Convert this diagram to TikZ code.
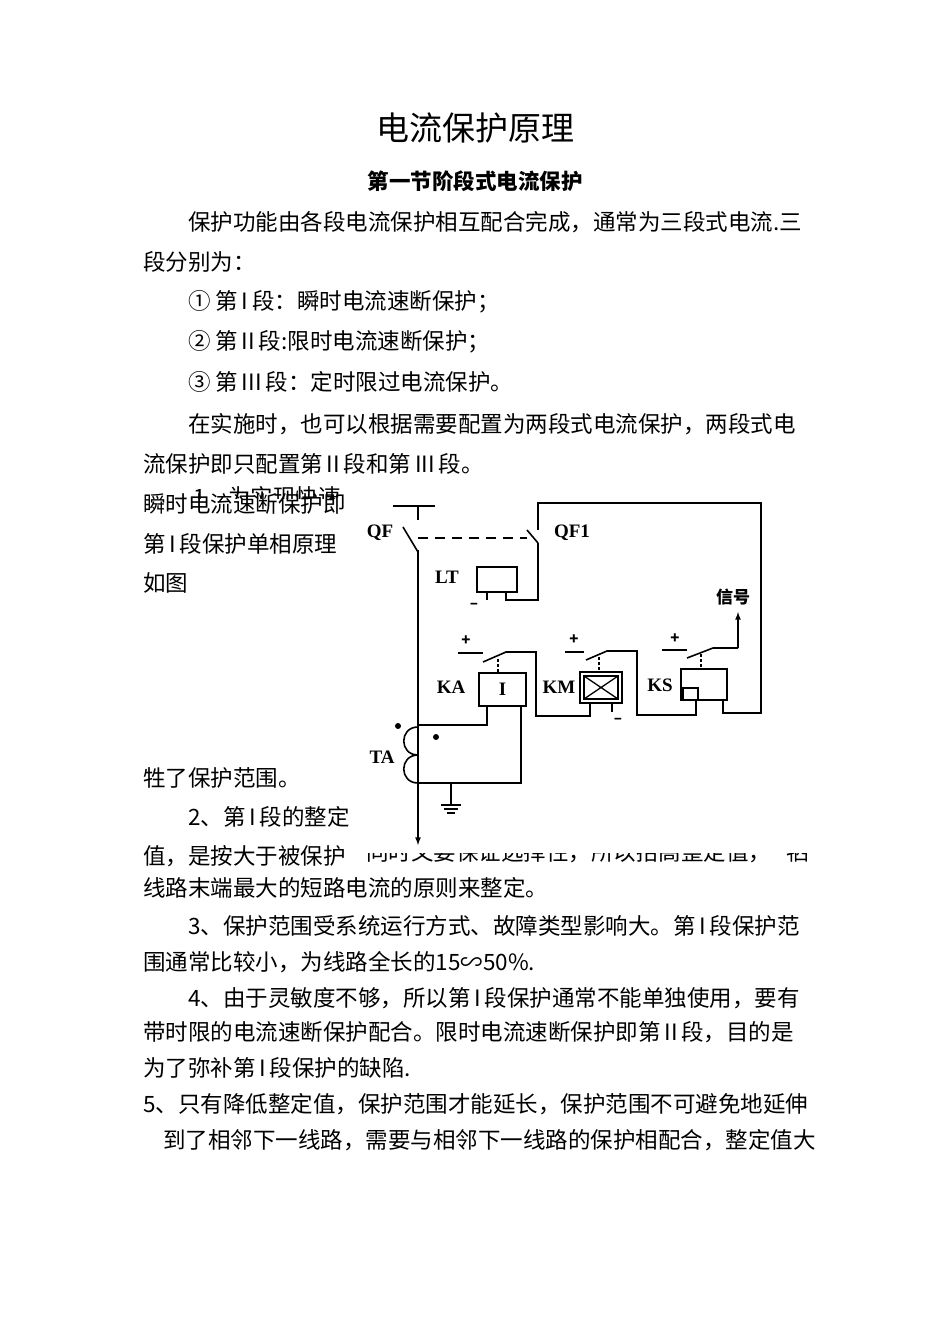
\documentclass[tikz,border=0pt]{standalone}
\usepackage{fontspec}
\setmainfont{Noto Sans CJK SC}
\newfontfamily\lat{Liberation Serif}
\newcommand{\rI}{\,I\,}
\begin{document}
\begin{tikzpicture}[x=1pt,y=-1pt,
  body/.style={anchor=west,inner sep=0pt,font=\fontsize{22.5}{22.5}\selectfont},
  wire/.style={line width=1.6pt},
  lbl/.style={inner sep=0pt,font=\lat\bfseries\fontsize{19}{19}\selectfont},
  pm/.style={inner sep=0pt,font=\bfseries\fontsize{15}{15}\selectfont}]
\useasboundingbox[fill=white] (0,0) rectangle (950,1344);
\node[inner sep=0pt,font=\fontsize{33}{33}\selectfont] (title) at (475,128) {电流保护原理};
\node[inner sep=0pt,font=\bfseries\fontsize{21.5}{21.5}\selectfont] (sub) at (475,181) {第一节阶段式电流保护};
\node[body] (l1) at (188,222) {保护功能由各段电流保护相互配合完成，通常为三段式电流.三};
\node[body] (l2) at (143,262) {段分别为：};
\node[body] (l3) at (188,302) {① 第\rI 段：瞬时电流速断保护；};
\node[body] (l4) at (188,342) {② 第\,II\,段:限时电流速断保护；};
\node[body] (l5) at (188,382) {③ 第\,III\,段：定时限过电流保护。};
\node[body] (l6) at (188,424) {在实施时，也可以根据需要配置为两段式电流保护，两段式电};
\node[body] (l7) at (143,464) {流保护即只配置第\,II\,段和第\,III\,段。};
\begin{scope}
\clip (180,470) rectangle (360,498);
\node[body] (l8b) at (193,497) {1、为实现快速};
\end{scope}
\node[body] (l8) at (143,504) {瞬时电流速断保护即};
\node[body] (l9) at (143,544) {第\rI 段保护单相原理};
\node[body] (l10) at (143,583) {如图};
\node[body] (l11) at (143,778) {牲了保护范围。};
\node[body] (l12) at (188,817) {2、第\rI 段的整定};
\node[body] (l13) at (143,856) {值，是按大于被保护};
\begin{scope}
\clip (360,853) rectangle (820,880);
\node[body,xscale=1.0] (l13b) at (366,852) {同时又要保证选择性，所以抬高整定值，};
\node[body] (l13c) at (786,852) {牺};
\end{scope}
\node[body] (l14) at (143,888) {线路末端最大的短路电流的原则来整定。};
\node[body] (l15) at (188,926) {3、保护范围受系统运行方式、故障类型影响大。第\rI 段保护范};
\node[body] (l16) at (143,962) {围通常比较小，为线路全长的15∽50\%.};
\node[body] (l17) at (188,998) {4、由于灵敏度不够，所以第\rI 段保护通常不能单独使用，要有};
\node[body] (l18) at (143,1032) {带时限的电流速断保护配合。限时电流速断保护即第\,II\,段，目的是};
\node[body] (l19) at (143,1068) {为了弥补第\rI 段保护的缺陷.};
\node[body] (l20) at (143,1104) {5、只有降低整定值，保护范围才能延长，保护范围不可避免地延伸};
\node[body] (l21) at (163,1140) {到了相邻下一线路，需要与相邻下一线路的保护相配合，整定值大};
% circuit
\draw[wire] (393,506) -- (435,506);
\draw[wire] (418,506) -- (418,520);
\draw[wire] (403,527) -- (418,552);
\draw[wire,-latex] (418,550) -- (418,845);
\draw[wire,dashed,dash pattern=on 10pt off 7pt] (418,538) -- (527,538);
\draw[wire] (527,530) -- (538,543);
\draw[wire] (538,530) -- (538,503) -- (761,503) -- (761,713) -- (723,713) -- (723,700);
\draw[wire] (538,543) -- (538,600) -- (506,600) -- (506,592);
\node[draw,line width=1.6pt,minimum width=40pt,minimum height=25pt,inner sep=0pt] (LT) at (497,579.5) {};
\draw[wire] (487,592) -- (487,600);
\node[lbl] (LTl) at (447,577) {LT};
\node[pm] (m1) at (474,606) {–};
\node[lbl] (QFl) at (380,533) {QF};
\node[lbl] (QF1l) at (572,533) {QF1};
% KA
\node[draw,line width=1.6pt,minimum width=47pt,minimum height=33pt,inner sep=0pt,font=\lat\bfseries\fontsize{19}{19}\selectfont] (KA) at (502.5,689.5) {I};
\node[lbl] (KAl) at (451,687) {KA};
\draw[wire] (487,706) -- (487,725) -- (418,725);
\draw[wire] (521,706) -- (521,783) -- (418,783);
\draw[wire] (451,783) -- (451,805);
\draw[wire] (441,805) -- (461,805);
\draw[wire] (444,809) -- (458,809);
\draw[wire] (447,813) -- (455,813);
\draw[wire] (418,727) .. controls (399,727) and (399,755) .. (418,755) .. controls (399,755) and (399,783) .. (418,783);
\fill (398,726) circle (3pt);
\fill (436,737) circle (3pt);
\node[lbl] (TAl) at (382,757) {TA};
\node[pm] (p1) at (466,641) {+};
\draw[wire] (458,653) -- (483,653);
\draw[wire] (483,662) -- (506,652) -- (536,652) -- (536,716) -- (590,716) -- (590,703);
\draw[wire,dashed,dash pattern=on 3pt off 2pt] (498,659) -- (498,673);
% KM
\node[draw,line width=1.6pt,minimum width=42pt,minimum height=31pt,inner sep=0pt] (KM) at (601,687.5) {};
\draw[line width=1.3pt] (584,676) rectangle (618,699);
\draw[line width=1.3pt] (584,676) -- (618,699) (584,699) -- (618,676);
\node[lbl] (KMl) at (559,687) {KM};
\draw[wire] (612,703) -- (612,712);
\node[pm] (m2) at (618,721) {–};
\node[pm] (p2) at (574,640) {+};
\draw[wire] (565,652) -- (584,652);
\draw[wire] (586,660) -- (607,651) -- (637,651) -- (637,715) -- (696,715) -- (696,700);
\draw[wire,dashed,dash pattern=on 3pt off 2pt] (599,657) -- (599,672);
% KS
\node[draw,line width=1.6pt,minimum width=46pt,minimum height=31pt,inner sep=0pt] (KS) at (704,684.5) {};
\draw[line width=1.3pt] (683,688) rectangle (698,700);
\node[lbl] (KSl) at (660,685) {KS};
\node[pm] (p3) at (675,639) {+};
\draw[wire] (662,650) -- (687,650);
\draw[wire] (687,658) -- (713,648) -- (738,648);
\draw[wire,-latex] (738,648) -- (738,612);
\draw[wire,dashed,dash pattern=on 3pt off 2pt] (701,654) -- (701,669);
\node[inner sep=0pt,font=\bfseries\fontsize{17}{17}\selectfont] (sig) at (733,597) {信号};
\end{tikzpicture}
\end{document}
